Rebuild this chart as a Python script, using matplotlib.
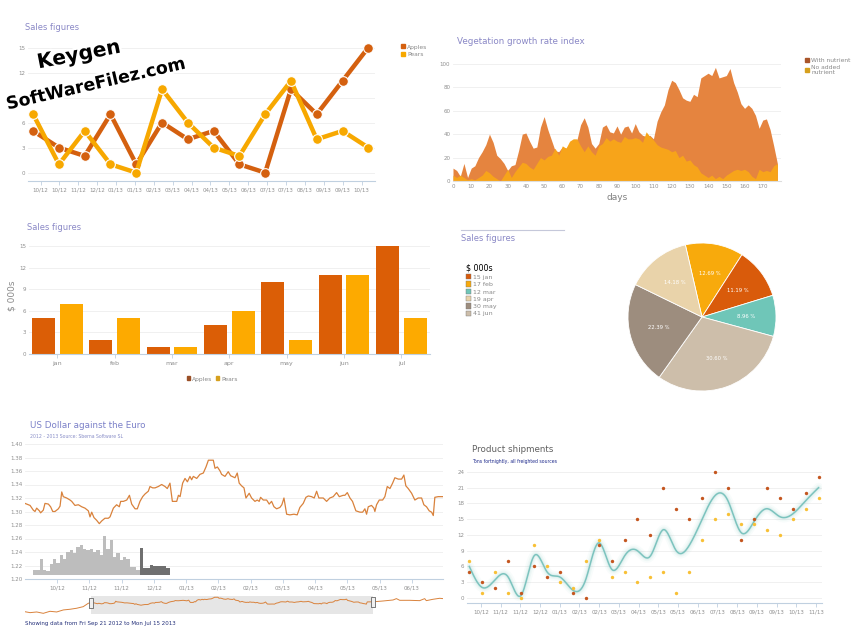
import numpy as np
import matplotlib
matplotlib.use("Agg")
import matplotlib.pyplot as plt
from matplotlib.lines import Line2D
from matplotlib.patches import Patch
import matplotlib.patheffects as pe

W, H = 855, 641

# ---- top-left line chart ----
line_apples = [5, 3, 2, 7, 1, 6, 4, 5, 1, 0, 10, 7, 11, 15]
line_pears = [7, 1, 5, 1, 0, 10, 6, 3, 2, 7, 11, 4, 5, 3]
line_ticks = ["10/12", "10/12", "11/12", "12/12", "01/13", "01/13", "02/13", "03/13", "04/13",
              "04/13", "05/13", "06/13", "07/13", "07/13", "08/13", "09/13", "09/13", "10/13"]

# ---- vegetation growth ----
veg_days = np.arange(0, 180, 2)
veg_nutrient = [11, 9, 4, 15, 3, 11, 13, 20, 25, 31,
                40, 33, 22, 19, 15, 9, 13, 14, 26, 40,
                41, 34, 28, 29, 46, 55, 44, 35, 26, 25,
                29, 28, 31, 34, 35, 48, 54, 46, 32, 28,
                32, 46, 48, 42, 41, 47, 40, 46, 47, 41,
                49, 42, 39, 38, 39, 36, 51, 59, 65, 78,
                86, 84, 78, 71, 69, 68, 74, 72, 88, 90,
                92, 90, 97, 88, 89, 90, 96, 84, 76, 66,
                62, 65, 62, 56, 45, 52, 53, 44, 30, 15]
veg_plain = [5, 3, 5, 3, 1, 2, 1, 3, 5, 9,
             7, 4, 2, 0, 5, 10, 3, 8, 12, 16,
             15, 12, 10, 15, 20, 18, 21, 22, 28, 22,
             30, 28, 34, 36, 36, 30, 25, 30, 25, 22,
             30, 32, 37, 34, 36, 34, 33, 38, 36, 36,
             37, 36, 33, 42, 38, 35, 31, 29, 28, 27,
             25, 26, 20, 22, 17, 18, 14, 12, 7, 5,
             3, 5, 2, 4, 2, 5, 7, 9, 10, 9,
             10, 8, 4, 2, 10, 8, 9, 8, 13, 15]

# ---- monthly bars ----
months = ["jan", "feb", "mar", "apr", "may", "jun", "jul"]
bar_apples = [5, 2, 1, 4, 10, 11, 15]
bar_pears = [7, 5, 1, 6, 2, 11, 5]

# ---- pie ----
pie_months = ["jan", "feb", "mar", "apr", "may", "jun"]
pie_values = [15, 17, 12, 19, 30, 41]
pie_colors = ["#D95B0B", "#F8AA0C", "#6FC6B8", "#E9D3AA", "#9D8D7E", "#CDBEAA"]
pie_order = [1, 0, 2, 5, 4, 3]  # clockwise from the top, as drawn

# ---- USD / EUR ----
fx_days = [0, 3.6, 5.9, 7.1, 8.3, 10.2, 11.1, 13.0, 14.2, 16.6,
           18.2, 19.7, 21.3, 23.7, 24.9, 26.1, 27.2, 29.6, 32.0, 33.2,
           35.5, 37.9, 40.3, 42.6, 45.0, 46.2, 47.4, 49.0, 50.9, 52.8,
           54.5, 56.8, 59.2, 60.4, 62.8, 65.1, 67.0, 68.0, 69.9, 72.3,
           74.2, 75.8, 78.2, 79.8, 81.7, 83.6, 85.3, 87.6, 88.8, 90.7,
           92.4, 94.7, 97.1, 99.5, 101.1, 103.0, 104.7, 106.6, 107.8, 109.0,
           110.2, 112.0, 113.7, 115.4, 117.2, 118.4, 119.6, 122.0, 124.3, 126.7,
           128.6, 130.3, 133.8, 135.0, 136.7, 138.6,
           139.7, 142.1, 144.4, 146.1, 149.2, 150.8, 152.2, 153.9, 155.6, 157.0,
           159.3, 161.0, 163.4, 165.0, 166.4, 167.4, 169.3, 171.7, 173.5, 175.2,
           176.9, 178.8, 181.1, 182.5, 184.0, 185.9, 188.2, 191.1, 193.4, 195.3,
           197.7, 199.6, 201.3, 203.6, 205.5, 207.2, 208.8, 211.9, 214.3, 216.6,
           219.0, 221.4, 223.3, 226.1, 227.3, 229.0, 230.9, 232.7, 235.1, 238.0,
           239.9, 241.5, 242.7, 243.9, 246.2, 247.9, 248.6, 249.8, 251.7, 254.1,
           255.7, 257.4, 259.3, 261.2, 262.8, 265.2, 267.6, 269.2, 270.6, 272.3,
           274.7, 277.0, 279.4, 281.8, 283.4, 285.3, 287.2, 288.9, 290.1, 291.2,
           293.6, 295.3, 297.0]
fx_rate = [1.312, 1.309, 1.302, 1.300, 1.305, 1.301, 1.298, 1.302, 1.312, 1.311,
           1.307, 1.300, 1.300, 1.304, 1.308, 1.329, 1.322, 1.320, 1.317, 1.315,
           1.309, 1.310, 1.307, 1.305, 1.301, 1.292, 1.299, 1.291, 1.287, 1.282,
           1.286, 1.290, 1.290, 1.292, 1.305, 1.310, 1.307, 1.315, 1.315, 1.317,
           1.324, 1.311, 1.304, 1.304, 1.315, 1.322, 1.326, 1.330, 1.337, 1.335,
           1.335, 1.337, 1.340, 1.337, 1.334, 1.342, 1.315, 1.315, 1.315, 1.324,
           1.322, 1.342, 1.349, 1.344, 1.352, 1.347, 1.352, 1.349, 1.355, 1.357,
           1.366, 1.376, 1.376, 1.364, 1.366, 1.360,
           1.355, 1.352, 1.359, 1.353, 1.350, 1.357, 1.342, 1.338, 1.335, 1.320,
           1.327, 1.320, 1.315, 1.317, 1.315, 1.321, 1.317, 1.317, 1.311, 1.315,
           1.307, 1.304, 1.306, 1.310, 1.320, 1.296, 1.295, 1.296, 1.295, 1.306,
           1.312, 1.321, 1.323, 1.322, 1.320, 1.330, 1.320, 1.320, 1.315, 1.320,
           1.322, 1.328, 1.322, 1.324, 1.324, 1.328, 1.320, 1.315, 1.301, 1.299,
           1.299, 1.304, 1.296, 1.307, 1.309, 1.305, 1.300, 1.310, 1.317, 1.317,
           1.322, 1.337, 1.334, 1.342, 1.350, 1.348, 1.348, 1.354, 1.338, 1.334,
           1.327, 1.317, 1.320, 1.320, 1.310, 1.307, 1.301, 1.299, 1.294, 1.321,
           1.322, 1.322, 1.322]
fx_tick_labels = ["10/12", "11/12", "11/12", "12/12", "01/13", "02/13",
                  "02/13", "03/13", "04/13", "05/13", "05/13", "06/13"]
nav_left_days = [-69.5, -64.2, -57.2, -50.2, -43.2, -36.1, -29.1, -22.1, -15.1, -8.1, -2.8]
nav_left_rate = [1.205, 1.194, 1.202, 1.186, 1.210, 1.202, 1.226, 1.234, 1.246, 1.265, 1.305]
nav_right_days = [307.9, 318.4, 321.9, 325.4, 335.9, 346.4, 351.7, 353.4, 360.4, 367.5, 371.0]
nav_right_rate = [1.332, 1.344, 1.360, 1.340, 1.340, 1.336, 1.360, 1.336, 1.352, 1.364, 1.360]
skyline_light = [1.213, 1.213, 1.230, 1.213, 1.212, 1.222, 1.230, 1.223, 1.236, 1.230,
                 1.240, 1.243, 1.238, 1.248, 1.250, 1.245, 1.243, 1.245, 1.240, 1.243,
                 1.235, 1.263, 1.245, 1.258, 1.233, 1.238, 1.228, 1.233, 1.229, 1.218,
                 1.218, 1.214]
skyline_dark = [1.246, 1.216, 1.216, 1.221, 1.219, 1.220, 1.220, 1.220, 1.217]

# ---- product shipments ----
ship_a = [5, 3, 2, 7, 1, 6, 4, 5, 1, 0, 10, 7, 11, 15, 12, 21, 17, 15, 19, 24, 21, 11, 15, 21, 19, 17, 20, 23]
ship_b = [7, 1, 5, 1, 0, 10, 6, 3, 2, 7, 11, 4, 5, 3, 4, 5, 1, 5, 11, 15, 16, 14, 14, 13, 12, 15, 17, 19]
ship_ticks = ["10/12", "11/12", "11/12", "12/12", "01/13", "02/13", "02/13", "03/13", "04/13",
              "05/13", "05/13", "06/13", "07/13", "08/13", "09/13", "09/13", "10/13", "11/13"]

APPLE, PEAR = "#D4600F", "#F7A800"
GRID, AXIS, TICK = "#EEEEEE", "#C0D0E0", "#8F8F8F"
TITLE = "#8A88C6"


def box(l, t, r, b):
    return [l / W, 1 - b / H, (r - l) / W, (b - t) / H]


def put(x, y, s, **kw):
    fig.text(x / W, 1 - y / H, s, **kw)


def style(ax, xmarks=True):
    for k in ("top", "right", "left"):
        ax.spines[k].set_visible(False)
    ax.spines["bottom"].set_color(AXIS)
    ax.spines["bottom"].set_linewidth(0.8)
    ax.grid(axis="y", color=GRID, lw=0.6)
    ax.set_axisbelow(True)
    ax.tick_params(labelsize=4, colors=TICK, pad=2)
    ax.tick_params(axis="y", length=0)
    ax.tick_params(axis="x", length=3 if xmarks else 0, color=AXIS, width=0.6)
    ax.set_facecolor("white")


def natural_spline(x, y, n=600):
    x = np.asarray(x, float); y = np.asarray(y, float)
    m = len(x); h = np.diff(x)
    A = np.zeros((m, m)); r = np.zeros(m)
    A[0, 0] = A[-1, -1] = 1
    for i in range(1, m - 1):
        A[i, i - 1], A[i, i], A[i, i + 1] = h[i - 1], 2 * (h[i - 1] + h[i]), h[i]
        r[i] = 3 * ((y[i + 1] - y[i]) / h[i] - (y[i] - y[i - 1]) / h[i - 1])
    c = np.linalg.solve(A, r)
    b = (y[1:] - y[:-1]) / h - h * (2 * c[:-1] + c[1:]) / 3
    d = (c[1:] - c[:-1]) / (3 * h)
    xs = np.linspace(x[0], x[-1], n)
    i = np.clip(np.searchsorted(x, xs) - 1, 0, m - 2)
    dx = xs - x[i]
    return xs, y[i] + b[i] * dx + c[i] * dx ** 2 + d[i] * dx ** 3


fig = plt.figure(figsize=(8.55, 6.41), dpi=100)
fig.patch.set_facecolor("white")

# 1. line chart
ax = fig.add_axes(box(28, 35, 375, 181))
style(ax)
xi = np.arange(len(line_apples))
ax.plot(xi, line_apples, color=APPLE, lw=3.2, marker="o", ms=7, mec="white", mew=0.8, zorder=3)
ax.plot(xi, line_pears, color=PEAR, lw=3.2, marker="o", ms=7, mec="white", mew=0.8, zorder=3)
ax.set_xlim(-0.2, 13.26); ax.set_ylim(-1, 16.5)
ax.set_yticks(range(0, 16, 3))
ax.set_xticks(np.linspace(0.285, 12.74, len(line_ticks)))
ax.set_xticklabels(line_ticks)
put(25, 27, "Sales figures", fontsize=6, color=TITLE, va="center")
fig.legend([Line2D([], [], ls="none", marker="s", ms=3.5, color=APPLE),
            Line2D([], [], ls="none", marker="s", ms=3.5, color=PEAR)], ["Apples", "Pears"],
           loc="upper left", bbox_to_anchor=(396 / W, 1 - 39 / H), frameon=False, fontsize=4.3,
           handlelength=0.6, handletextpad=0.4, labelspacing=0.35, labelcolor="#888")

# 2. vegetation areas
ax = fig.add_axes(box(453, 58, 781, 181))
style(ax, xmarks=False)
ax.fill_between(veg_days, veg_nutrient, color="#E5843F", lw=0)
ax.fill_between(veg_days, veg_plain, color="#F7A41A", lw=0)
ax.set_xlim(0, 180); ax.set_ylim(0, 105)
ax.set_xticks(range(0, 180, 10)); ax.set_yticks(range(0, 101, 20))
ax.spines["bottom"].set_color("#DDDDDD")
put(457, 42, "Vegetation growth rate index", fontsize=6.3, color=TITLE, va="center")
put(617, 198, "days", fontsize=6.5, color="#808080", ha="center", va="center")
fig.legend([Patch(color="#A9552A"), Patch(color="#D6A01E")], ["With nutrient", "No added\nnutrient"],
           loc="upper left", bbox_to_anchor=(800 / W, 1 - 53 / H), frameon=False, fontsize=4.3,
           handlelength=0.6, handleheight=0.6, handletextpad=0.4, labelspacing=0.2, labelcolor="#888")

# 3. monthly bars
ax = fig.add_axes(box(28.7, 239, 430, 354))
style(ax)
xm = np.arange(len(months))
ax.bar(xm - 0.24, bar_apples, 0.4, color="#DB5E06")
ax.bar(xm + 0.24, bar_pears, 0.4, color="#FDAA00")
ax.set_xlim(-0.5, 6.5); ax.set_ylim(0, 16)
ax.set_xticks(xm); ax.set_xticklabels(months)
ax.set_yticks(range(0, 16, 3))
ax.tick_params(axis="x", labelsize=4.5)
put(27, 227, "Sales figures", fontsize=6, color=TITLE, va="center")
put(12, 296, "$ 000s", fontsize=6.5, color="#8A8A8A", rotation=90, ha="center", va="center")
fig.legend([Patch(color="#9A4F26"), Patch(color="#D6A01E")], ["Apples", "Pears"], ncol=2,
           loc="center", bbox_to_anchor=(212 / W, 1 - 379 / H), frameon=False, fontsize=4.3,
           handlelength=0.6, handleheight=0.6, handletextpad=0.3, columnspacing=0.6, labelcolor="#888")

# 4. pie
ax = fig.add_axes(box(609.5, 224.5, 794.5, 409.5))
vals = [pie_values[i] for i in pie_order]
cols = [pie_colors[i] for i in pie_order]
wedges, _, autotexts = ax.pie(vals, colors=cols, startangle=103, counterclock=False,
                              autopct=lambda p: f"{p:.2f} %", pctdistance=0.6,
                              wedgeprops=dict(edgecolor="white", linewidth=0.6),
                              textprops=dict(color="white", fontsize=3.8))
ax.set_xlim(-1.25, 1.25); ax.set_ylim(-1.25, 1.25)
legend_handles = [Patch(facecolor=c, edgecolor="#777777", linewidth=0.3) for c in pie_colors]
fig.legend(legend_handles, [f"{v} {m}" for v, m in zip(pie_values, pie_months)], title="$ 000s",
           loc="upper left", bbox_to_anchor=(460 / W, 1 - 258 / H), frameon=False, fontsize=4.5,
           title_fontsize=5.8, alignment="left", handlelength=0.9, handleheight=0.9,
           handletextpad=0.2, labelspacing=0.25, labelcolor="#888")
fig.add_artist(Line2D([461 / W, 564 / W], [1 - 230 / H] * 2, color="#C5C8DA", lw=0.8))
put(461, 239, "Sales figures", fontsize=6, color=TITLE, va="center")

# 5. USD / EUR
ax = fig.add_axes(box(25, 444, 443, 579))
style(ax, xmarks=True)
sky_w = 2.37
sky_x0 = 5.7
ax.bar(sky_x0 + sky_w * np.arange(len(skyline_light)), np.array(skyline_light) - 1.206,
       bottom=1.206, width=sky_w, align="edge", color="#BDBDBD", lw=0)
ax.bar(sky_x0 + sky_w * (len(skyline_light) + np.arange(len(skyline_dark))), np.array(skyline_dark) - 1.206,
       bottom=1.206, width=sky_w, align="edge", color="#6F6F6F", lw=0)
ax.plot(fx_days, fx_rate, color="#D9823C", lw=0.9)
ax.set_xlim(0, 297); ax.set_ylim(1.2, 1.4)
ax.set_yticks(np.arange(1.2, 1.401, 0.02))
ax.set_yticklabels([f"{v:.2f}" for v in np.arange(1.2, 1.401, 0.02)])
ax.set_xticks(np.linspace(22.7, 275, len(fx_tick_labels)))
ax.set_xticklabels(fx_tick_labels)
put(30, 425, "US Dollar against the Euro", fontsize=6.3, color="#7B80C8", va="center")
put(30, 436, "2012 - 2013 Source: Sberna Software SL", fontsize=3.3, color="#8A8FC8", va="center")

nav = fig.add_axes(box(25, 596, 443, 614))
for k in nav.spines:
    nav.spines[k].set_visible(False)
nav.set_xticks([]); nav.set_yticks([])
nav.axvspan(0, 297, color="#E6E6E6", lw=0)
nav_x = nav_left_days + fx_days + nav_right_days
nav_y = nav_left_rate + fx_rate + nav_right_rate
nav.plot(nav_x, nav_y, color="#D9823C", lw=0.7)
handle = [(-1, -2.2), (1, -2.2), (1, 2.2), (-1, 2.2), (-1, -2.2)]
nav.plot([0, 297], [1.312, 1.322], ls="none", marker=handle, ms=7, mfc="#F0F0F0", mec="#666666", mew=0.6)
nav.set_xlim(-69.5, 371); nav.set_ylim(1.178, 1.391)
put(25, 623, "Showing data from Fri Sep 21 2012 to Mon Jul 15 2013", fontsize=4, color="#24307A", va="center")

# 6. product shipments
ax = fig.add_axes(box(467, 466.7, 822, 603))
style(ax)
xs_idx = np.arange(len(ship_a))
avg = (np.array(ship_a) + np.array(ship_b)) / 2
sx, sy = natural_spline(xs_idx, avg)
for lw, a in ((7, 0.05), (4.5, 0.08), (2.5, 0.12)):
    ax.plot(sx, sy, color="#7DC6C0", lw=lw, alpha=a, solid_capstyle="round")
ax.plot(sx, sy, color="#7CC3BE", lw=1.1)
ax.scatter(xs_idx, ship_a, s=6, color="#C4561F", zorder=3, lw=0)
ax.scatter(xs_idx, ship_b, s=6, color="#F8C036", zorder=3, lw=0)
ax.set_xlim(-0.18, 27.27); ax.set_ylim(-0.95, 25)
ax.set_yticks(range(0, 25, 3))
ax.set_xticks(np.linspace(0.9, 26.8, len(ship_ticks)))
ax.set_xticklabels(ship_ticks)
put(472, 449, "Product shipments", fontsize=6.3, color="#606060", va="center")
put(472, 461, "Tons fortnightly, all freighted sources", fontsize=3.3, color="#1E2A8C", va="center")

# watermark
stroke = [pe.withStroke(linewidth=3.5, foreground="white")]
put(79, 55, "Keygen", fontsize=14.5, fontweight="bold", rotation=11,
    ha="center", va="center", color="black", path_effects=stroke, zorder=20)
put(96, 84, "SoftWareFilez.com", fontsize=12.5, fontweight="bold",
    rotation=13, ha="center", va="center", color="black", path_effects=stroke, zorder=20)

fig.savefig("out.png", dpi=100)
